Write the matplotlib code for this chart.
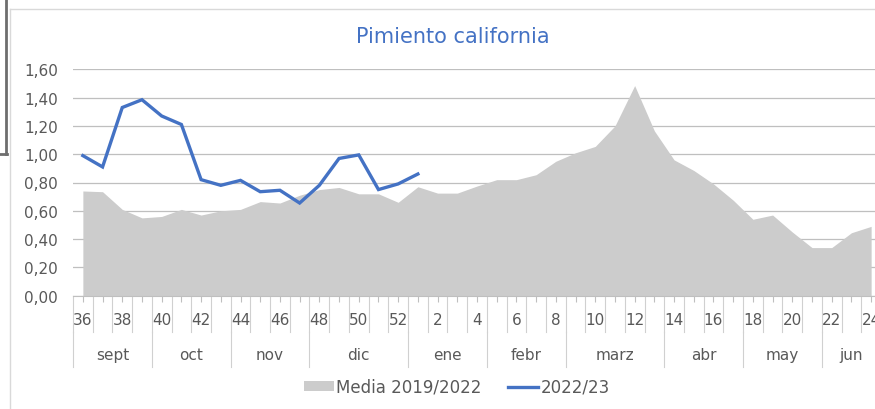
import numpy as np
import matplotlib
matplotlib.use("Agg")
import matplotlib.pyplot as plt
from matplotlib.patches import Patch
from matplotlib.lines import Line2D

plt.rcParams['font.family'] = ['DejaVu Sans']

# semanas de campaña (36..52, 1..24)
weeks = list(range(36, 53)) + list(range(1, 25))
# meses: nombre, primera y última posición de semana
months = ["sept", "oct", "nov", "dic", "ene", "febr", "marz", "abr", "may", "jun"]
month_start = [0, 4, 8, 12, 17, 21, 25, 30, 34, 38]
month_end = [3, 7, 11, 16, 20, 24, 29, 33, 37, 40]

media = [0.74, 0.735, 0.61, 0.55, 0.56, 0.61, 0.57, 0.60, 0.61, 0.665,
         0.655, 0.71, 0.75, 0.765, 0.72, 0.72, 0.66, 0.77, 0.725, 0.725,
         0.775, 0.82, 0.82, 0.855, 0.95, 1.01, 1.055, 1.20, 1.485, 1.165,
         0.96, 0.885, 0.79, 0.675, 0.54, 0.57, 0.45, 0.34, 0.34, 0.445, 0.49]
actual = [0.99, 0.91, 1.33, 1.385, 1.27, 1.21, 0.82, 0.78, 0.815, 0.735,
          0.745, 0.655, 0.78, 0.97, 0.995, 0.75, 0.79, 0.86]

grey_txt = '#595959'
grid_c = '#BFBFBF'
sep_c = '#D0D0D0'

W, H = 875, 410
fig = plt.figure(figsize=(W / 100, H / 100), dpi=100)
ax = fig.add_axes([73 / W, 113.3 / H, 808 / W, 226.4 / H])

x = np.arange(len(weeks))
ax.fill_between(x, media, color='#CCCCCC', lw=0, zorder=2)
ax.plot(x[:len(actual)], actual, color='#4472C4', lw=2.4, zorder=3,
        solid_joinstyle='miter')

ax.set_xlim(-0.5, len(weeks) - 0.5)
ax.set_ylim(0, 1.6)
yt = np.arange(0, 1.61, 0.2)
ax.set_yticks(yt)
ax.set_yticklabels([f"{v:.2f}".replace('.', ',') for v in yt])
ax.tick_params(axis='y', length=0, pad=11, labelsize=11, labelcolor=grey_txt)
ax.yaxis.grid(True, color=grid_c, lw=0.9, zorder=1)
ax.set_axisbelow(True)

ax.set_xticks(x)
ax.tick_params(axis='x', length=4, width=0.8, color=grid_c, labelbottom=False)
for s in ['top', 'right', 'left']:
    ax.spines[s].set_visible(False)
ax.spines['bottom'].set_color(grid_c)

tr = ax.get_xaxis_transform()
row1 = -36 / 226.4
row2 = -71 / 226.4
for i in range(len(weeks) + 1):
    b = i - 0.5
    ax.plot([b, b], [0, row1], color=sep_c, lw=0.8, transform=tr, clip_on=False)
for s in month_start:
    ax.plot([s - 0.5, s - 0.5], [row1, row2], color=sep_c, lw=0.8,
            transform=tr, clip_on=False)
for i, w in enumerate(weeks):
    if i % 2 == 0:
        ax.text(i, -24 / 226.4, str(w), transform=tr, ha='center', va='center',
                fontsize=11, color=grey_txt, clip_on=False)
for m, s, e in zip(months, month_start, month_end):
    ax.text((s + e) / 2, -59 / 226.4, m, transform=tr, ha='center', va='center',
            fontsize=11, color=grey_txt, clip_on=False)

fig.text(453 / W, 1 - 37 / H, 'Pimiento california', ha='center', va='center',
         color='#4472C4', fontsize=15)

handles = [Patch(facecolor='#CCCCCC', edgecolor='none'),
           Line2D([], [], color='#4472C4', lw=2.4)]
fig.legend(handles, ['Media 2019/2022', '2022/23'], loc='center',
           bbox_to_anchor=(457 / W, 1 - 388 / H), ncol=2, frameon=False,
           fontsize=12, labelcolor=grey_txt, handlelength=1.8,
           handletextpad=0.15, columnspacing=1.6, handleheight=0.55)

# borde del área del gráfico y marco recortado a la izquierda
fig.add_artist(Line2D([9.5 / W, 9.5 / W], [0, 1 - 10 / H], color='#D9D9D9', lw=1))
fig.add_artist(Line2D([9.5 / W, 1], [1 - 10 / H, 1 - 10 / H], color='#D9D9D9', lw=1))
fig.add_artist(Line2D([5.5 / W, 5.5 / W], [1, 1 - 155 / H], color='#6E6E6E', lw=2))
fig.add_artist(Line2D([0, 6.5 / W], [1 - 155 / H, 1 - 155 / H], color='#6E6E6E', lw=2))

fig.savefig('out.png', dpi=100)
